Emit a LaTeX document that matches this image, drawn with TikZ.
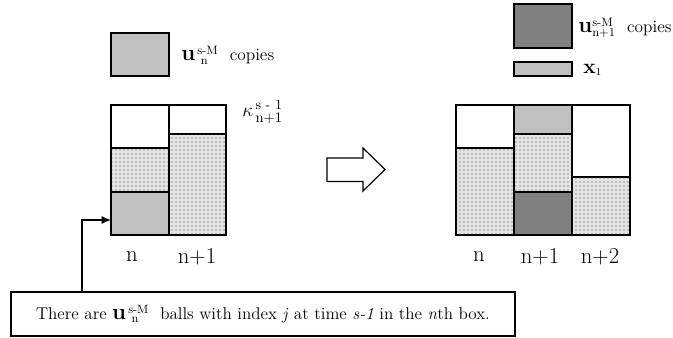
\documentclass[tikz,border=0pt]{standalone}
\usepackage{amsmath}
\usepackage{graphicx}
\usetikzlibrary{patterns,arrows.meta}
\definecolor{lightg}{RGB}{192,192,192}
\definecolor{darkg}{RGB}{128,128,128}
\definecolor{dotbg}{RGB}{228,228,228}
\newcommand{\bu}{\scalebox{1.4}{$\mathbf{u}$}}
\newcommand{\uvar}[1]{\bu$^{\,\text{s-M}}_{\;\,\mathrm{#1}}$}
\begin{document}
\begin{tikzpicture}[x=0.75pt,y=-0.75pt,
  box/.style={draw=black,line width=0.9pt},
  dotcell/.style={box,fill=dotbg,postaction={pattern=dots,pattern color=black!75}},
  lgcell/.style={box,fill=lightg},
  dgcell/.style={box,fill=darkg},
  wcell/.style={box,fill=white},
  lbl/.style={inner sep=0pt,font=\fontsize{17}{19}\selectfont},
  leg/.style={inner sep=0pt,anchor=west,font=\fontsize{13}{15}\selectfont}]
\useasboundingbox (0,0) rectangle (673,338);
\clip (0,0) rectangle (673,338);
% left legend
\draw[lgcell] (111,33) rectangle (169,76);
\node[leg] (legL) at (181,55) {\uvar{n}\ \ copies};
% left chart
\draw[wcell] (111,105) rectangle (169,148);
\draw[dotcell] (111,148) rectangle (169,192);
\draw[lgcell] (111,192) rectangle (169,235);
\draw[wcell] (169,105) rectangle (226,134);
\draw[dotcell] (169,134) rectangle (226,235);
\node[leg,font=\fontsize{15}{17}\selectfont] (kap) at (242,112) {$\kappa^{\,\text{s - 1}}_{\,\mathrm{n+1}}$};
\node[lbl] (ln) at (132,257) {n};
\node[lbl] (ln1) at (197,257) {n+1};
% big arrow
\draw[box,fill=white,line join=miter] (327,158) -- (363,158) -- (363,148) -- (385,169.5) -- (363,191) -- (363,181.5) -- (327,181.5) -- cycle;
% right legend
\draw[dgcell] (514,4) rectangle (572,48);
\node[leg] (legR) at (578,28) {\bu$^{\text{s-M}}_{\text{n+1}}$\ \ copies};
\draw[lgcell] (514,62) rectangle (572,76);
\node[leg] (legx) at (583,70) {\scalebox{1.3}{$\mathbf{x}$}\raisebox{-1pt}{\footnotesize 1}};
% right chart
\draw[wcell] (456,105) rectangle (514,148);
\draw[dotcell] (456,148) rectangle (514,235);
\draw[lgcell] (514,105) rectangle (572,134);
\draw[dotcell] (514,134) rectangle (572,192);
\draw[dgcell] (514,192) rectangle (572,235);
\draw[wcell] (572,105) rectangle (630,177);
\draw[dotcell] (572,177) rectangle (630,235);
\node[lbl] (rn) at (479,257) {n};
\node[lbl] (rn1) at (540,257) {n+1};
\node[lbl] (rn2) at (600,257) {n+2};
% note box
\node[box,minimum width=504*0.75pt,minimum height=44*0.75pt,inner sep=0pt,
  font=\fontsize{12.8}{15}\selectfont] (note) at (263,314)
  {There are \uvar{n}\ \ balls with index \textit{j} at time \textit{s-1} in the \textit{n}th box.};
\coordinate (tgt) at (111,220);
\coordinate (src) at (82,292);
\draw[line width=0.9pt,-{Latex[length=7pt,width=6pt]}] (src) |- (tgt);
\end{tikzpicture}
\end{document}
